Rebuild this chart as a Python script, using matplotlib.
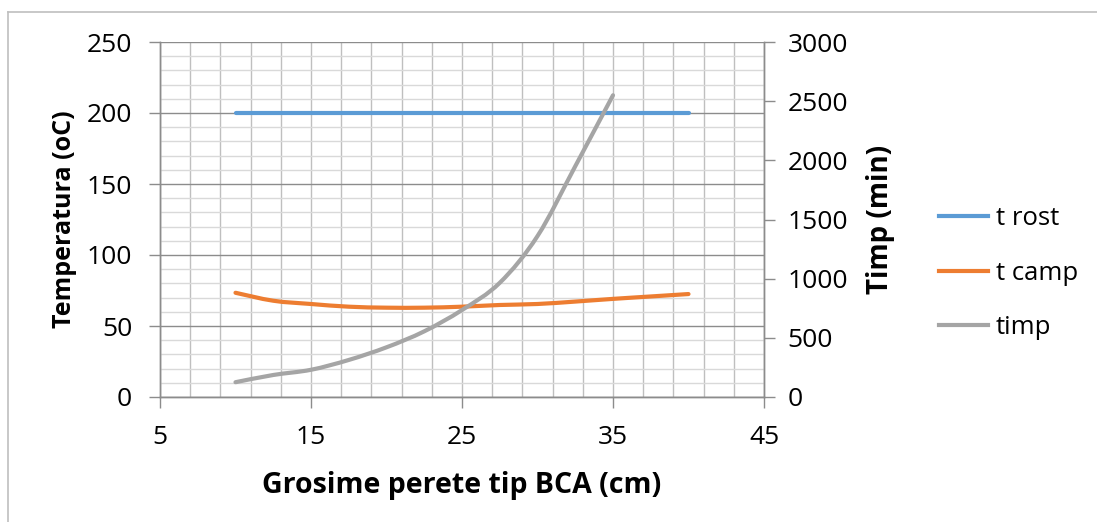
import matplotlib
matplotlib.use("Agg")
import matplotlib.pyplot as plt
from matplotlib.lines import Line2D
from matplotlib.path import Path
from matplotlib.patches import PathPatch

plt.rcParams['font.family'] = ['Open Sans', 'DejaVu Sans']

# Data
x_rost = [10, 40]
t_rost = [200, 200]

x_camp = [10, 12.5, 15, 17.5, 20, 22.5, 25, 27.5, 30, 32.5, 35, 37.5, 40]
t_camp = [73.4, 67.8, 65.5, 63.6, 62.9, 62.9, 63.6, 64.8, 65.5, 67.2, 69.1, 70.8, 72.5]

x_timp = [10, 12.5, 15, 17.5, 20, 22.5, 25, 27.5, 30, 32.5, 35]
timp = [125, 186, 230, 313, 420, 555, 735, 965, 1360, 1950, 2550]

xticks = [5, 15, 25, 35, 45]
yticks_left = [0, 50, 100, 150, 200, 250]
yticks_right = [0, 500, 1000, 1500, 2000, 2500, 3000]


def smooth_path(xs, ys):
    """Excel-like smoothed line: Catmull-Rom segments as cubic Bezier path."""
    pts = list(zip(xs, ys))
    verts = [pts[0]]
    codes = [Path.MOVETO]
    n = len(pts)
    for i in range(n - 1):
        p0 = pts[i - 1] if i > 0 else pts[i]
        p1 = pts[i]
        p2 = pts[i + 1]
        p3 = pts[i + 2] if i + 2 < n else pts[i + 1]
        c1 = (p1[0] + (p2[0] - p0[0]) / 6, p1[1] + (p2[1] - p0[1]) / 6)
        c2 = (p2[0] - (p3[0] - p1[0]) / 6, p2[1] - (p3[1] - p1[1]) / 6)
        verts += [c1, c2, p2]
        codes += [Path.CURVE4] * 3
    return Path(verts, codes)


W, H = 1097, 522
fig = plt.figure(figsize=(W / 100, H / 100), dpi=100)
ax = fig.add_axes([160 / W, 1 - 397 / H, (764 - 160) / W, (397 - 42) / H])

ax.set_xlim(5, 45)
ax.set_ylim(0, 250)

# grid
for gx in range(5, 46, 2):
    ax.axvline(gx, color='#bfbfbf', lw=1.0, zorder=0)
for gy in range(0, 251, 10):
    if gy % 50 == 0:
        ax.axhline(gy, color='#8c8c8c', lw=1.0, zorder=0.5)
    else:
        ax.axhline(gy, color='#d9d9d9', lw=1.0, zorder=0)

ax2 = ax.twinx()
ax2.set_ylim(0, 3000)

c_rost, c_camp, c_timp = '#5b9bd5', '#ed7d31', '#a5a5a5'

ax.plot(x_rost, t_rost, color=c_rost, lw=3, solid_capstyle='round', zorder=3)
ax.add_patch(PathPatch(smooth_path(x_camp, t_camp), facecolor='none', edgecolor=c_camp,
                       lw=3, capstyle='round', zorder=3))
ax2.add_patch(PathPatch(smooth_path(x_timp, timp), facecolor='none', edgecolor=c_timp,
                        lw=3, capstyle='round', zorder=3))

for a in (ax, ax2):
    for s in a.spines.values():
        s.set_color('#8c8c8c')
        s.set_linewidth(1.0)
    a.spines['top'].set_visible(False)

ax.set_xticks(xticks)
ax.set_yticks(yticks_left)
ax2.set_yticks(yticks_right)
ax.tick_params(axis='both', direction='out', length=8, width=1, color='#8c8c8c',
               labelsize=19, labelcolor='black', pad=12)
ax.tick_params(axis='x', pad=12)
ax2.tick_params(axis='y', direction='out', length=8, width=1, color='#8c8c8c',
                labelsize=19, labelcolor='black', pad=9)

ax.set_xlabel('Grosime perete tip BCA (cm)', fontsize=20.5, fontweight='bold', labelpad=15)
ax.set_ylabel('Temperatura (oC)', fontsize=18, fontweight='bold', labelpad=7)
ax2.set_ylabel('Timp (min)', fontsize=20, fontweight='bold', labelpad=13)

handles = [Line2D([], [], color=c_rost, lw=3),
           Line2D([], [], color=c_camp, lw=3),
           Line2D([], [], color=c_timp, lw=3)]
fig.legend(handles, ['t rost', 't camp', 'timp'], loc='center left',
           bbox_to_anchor=(916 / W, 1 - 273 / H), frameon=False,
           fontsize=18.5, handlelength=1.9, handletextpad=0.3, labelspacing=1.15)

# outer chart frame
fig.add_artist(Line2D([8 / W, 8 / W], [0, 1 - 12 / H], transform=fig.transFigure,
                      color='#bfbfbf', lw=1.2))
fig.add_artist(Line2D([8 / W, 1], [1 - 12 / H, 1 - 12 / H], transform=fig.transFigure,
                      color='#bfbfbf', lw=1.2))

fig.savefig('out.png', dpi=100)
